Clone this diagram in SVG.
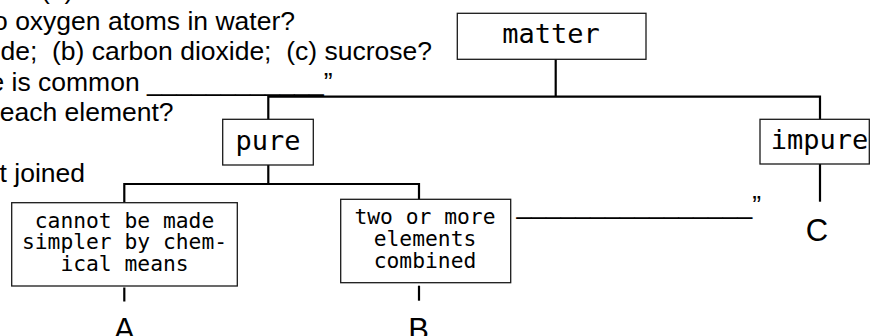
<svg xmlns="http://www.w3.org/2000/svg" width="873" height="336" viewBox="0 0 873 336">
  <style>
    .q { font-family: "Liberation Sans", Arial, sans-serif; font-size: 26.5px; fill: #000; white-space: pre; }
    .box { fill: #fff; stroke: #1a1a1a; stroke-width: 1.3; }
    .lbl { font-family: "DejaVu Sans Mono", monospace; font-size: 27px; fill: #000; text-anchor: middle; }
    .sm { font-family: "DejaVu Sans Mono", monospace; font-size: 21.3px; fill: #000; text-anchor: middle; }
    .let { font-family: "Liberation Sans", Arial, sans-serif; font-size: 31px; fill: #000; text-anchor: middle; }
    .conn { fill: none; stroke: #000; stroke-width: 2.2; stroke-linejoin: miter; }
  </style>

  <!-- question text running along the left edge -->
  <g id="questions">
    <text class="q" xml:space="preserve" x="41" y="-1">(a)</text>
    <text class="q" xml:space="preserve" x="295" y="30" text-anchor="end">o oxygen atoms in water?</text>
    <text class="q" xml:space="preserve" x="432" y="60.3" text-anchor="end">de;  (b) carbon dioxide;  (c) sucrose?</text>
    <text class="q" xml:space="preserve" x="-10.6" y="90.7">e is common ____________”</text>
    <text class="q" xml:space="preserve" x="173.6" y="121" text-anchor="end">each element?</text>
    <text class="q" xml:space="preserve" x="85" y="182" text-anchor="end">t joined</text>
    <text class="q" xml:space="preserve" x="516.5" y="214">________________”</text>
  </g>

  <!-- tree connectors -->
  <g id="connectors">
    <path class="conn" d="M555.7,59 V96.7"/>
    <path class="conn" d="M268.3,119.3 V96.7 H820 V119.3"/>
    <path class="conn" d="M268.3,165 V184"/>
    <path class="conn" d="M124.3,202.7 V184 H419 V199.3"/>
    <path class="conn" d="M124.3,287.5 V301.5"/>
    <path class="conn" d="M419,285.7 V300.7"/>
    <path class="conn" d="M820,164 V201.7"/>
  </g>

  <g id="matter">
    <rect class="box" x="457.3" y="13.3" width="188.7" height="46"/>
    <text class="lbl" x="551" y="43.3">matter</text>
  </g>

  <g id="pure">
    <rect class="box" x="222.7" y="119.3" width="90.6" height="45.7"/>
    <text class="lbl" x="268" y="150.3">pure</text>
  </g>

  <g id="impure">
    <rect class="box" x="760" y="119.3" width="109.3" height="44.7"/>
    <text class="lbl" x="819.5" y="149">impure</text>
  </g>

  <g id="element">
    <rect class="box" x="11.7" y="202.7" width="225.6" height="83.3"/>
    <text class="sm" x="124.5" y="227.6">cannot be made</text>
    <text class="sm" x="124.5" y="249.3">simpler by chem-</text>
    <text class="sm" x="124.5" y="271">ical means</text>
  </g>

  <g id="compound">
    <rect class="box" x="340.7" y="199.3" width="170" height="83.4"/>
    <text class="sm" x="425" y="224.3">two or more</text>
    <text class="sm" x="425" y="246">elements</text>
    <text class="sm" x="425" y="267.7">combined</text>
  </g>

  <g id="label-a"><text class="let" x="124.3" y="339.5">A</text></g>
  <g id="label-b"><text class="let" x="418.7" y="339.5">B</text></g>
  <g id="label-c"><text class="let" x="817" y="240.7">C</text></g>
</svg>
